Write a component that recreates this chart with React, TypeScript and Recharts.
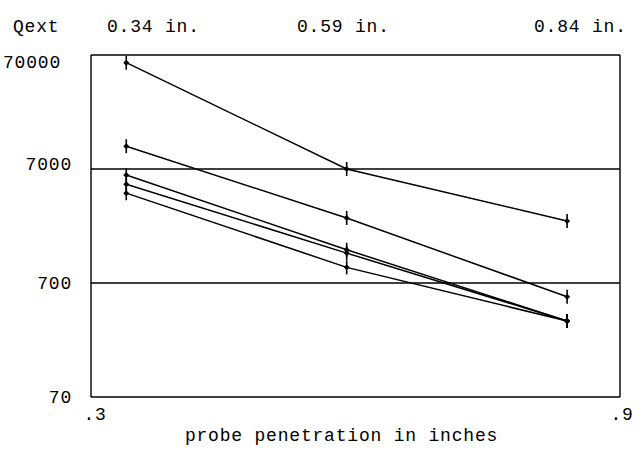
import React from 'react';
import { LineChart, Line, XAxis, YAxis, CartesianGrid } from 'recharts';

const penetration = [0.34, 0.59, 0.84];
const seriesA = [60000, 7000, 2450];
const seriesB = [11100, 2600, 530];
const seriesC = [6200, 1370, 325];
const seriesD = [5150, 1280, 325];
const seriesE = [4300, 960, 325];
const yTicks = [70, 700, 7000, 70000];
const xTicks = [0.3, 0.9];
const xTickLabels = ['.3', '.9'];
const topLabels = ['Qext', '0.34 in.', '0.59 in.', '0.84 in.'];
const xTitle = 'probe penetration in inches';

const data = penetration.map((x, i) => ({
  x,
  a: seriesA[i],
  b: seriesB[i],
  c: seriesC[i],
  d: seriesD[i],
  e: seriesE[i],
}));

const FONT = '"Liberation Mono", "DejaVu Sans Mono", monospace';
const FS = 18;
const LS = 0.8;

const Marker = (props: any) => {
  const { cx, cy } = props;
  if (cx == null || cy == null) return null;
  return (
    <g>
      <line x1={cx} y1={cy - 7} x2={cx} y2={cy + 7} stroke="#000" strokeWidth={1.6} />
      <path d={`M${cx - 3},${cy} L${cx},${cy - 3} L${cx + 3},${cy} L${cx},${cy + 3} Z`} fill="#000" />
    </g>
  );
};

const YTick = (props: any) => {
  const { y, payload, index } = props;
  const dx = index === 3 ? -11 : 0;
  const dy = index === 3 ? 7 : index === 2 ? -5 : 0;
  return (
    <text x={72 + dx} y={y + dy} dy="0.35em" textAnchor="end" fontFamily={FONT} fontSize={FS} letterSpacing={LS} fill="#000">
      {String(payload.value)}
    </text>
  );
};

const XTick = (props: any) => {
  const { x, y, index } = props;
  return (
    <text x={x + (index === 0 ? 4 : 2)} y={y + 15} textAnchor="middle" fontFamily={FONT} fontSize={FS} letterSpacing={LS} fill="#000">
      {xTickLabels[index]}
    </text>
  );
};

const XTitle = (props: any) => {
  const { viewBox } = props;
  const cx = viewBox.x + viewBox.width / 2 - 14;
  return (
    <text x={cx} y={441} textAnchor="middle" fontFamily={FONT} fontSize={FS} letterSpacing={LS} fill="#000">
      {xTitle}
    </text>
  );
};

const topPos = [13, 107, 297, 534];

export default function App() {
  const keys = ['a', 'b', 'c', 'd', 'e'];
  return (
    <div style={{ position: 'absolute', left: 0, top: 0, width: 633, height: 454, background: '#fff' }}>
      {topLabels.map((t, i) => (
        <div
          key={t}
          style={{
            position: 'absolute',
            left: topPos[i],
            top: 17,
            fontFamily: FONT,
            fontSize: FS,
            letterSpacing: LS,
            whiteSpace: 'pre',
            color: '#000',
            lineHeight: '20px',
          }}
        >
          {t}
        </div>
      ))}
      <div style={{ position: 'absolute', left: 0, top: 0 }}>
        <LineChart width={633} height={454} data={data} margin={{ top: 55, right: 13, bottom: 0, left: 0 }}>
          <CartesianGrid
            stroke="#000"
            strokeWidth={1.4}
            horizontalValues={yTicks}
            verticalValues={xTicks}
          />
          <XAxis
            dataKey="x"
            type="number"
            domain={[0.3, 0.9]}
            ticks={xTicks}
            axisLine={false}
            tickLine={false}
            height={57}
            tick={<XTick />}
            label={<XTitle />}
          />
          <YAxis
            scale="log"
            domain={[70, 70000]}
            ticks={yTicks}
            axisLine={false}
            tickLine={false}
            width={91}
            tick={<YTick />}
            allowDataOverflow
          />
          {keys.map((k) => (
            <Line
              key={k}
              dataKey={k}
              stroke="#000"
              strokeWidth={1.5}
              dot={<Marker />}
              activeDot={false}
              isAnimationActive={false}
            />
          ))}
        </LineChart>
      </div>
    </div>
  );
}
